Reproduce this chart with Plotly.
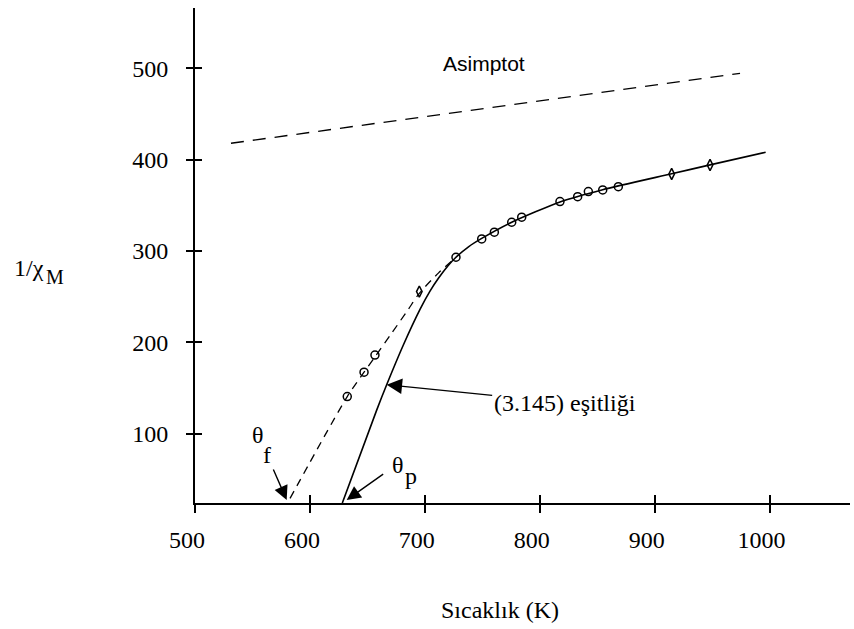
import plotly.graph_objects as go

# ---- data ----
exp_T = [632.5, 647.1, 656.6, 695.2, 727.1, 749.5, 760.5, 775.6, 784.3,
         817.6, 833.0, 842.3, 854.8, 868.4, 914.8, 948.2]
exp_inv_chi = [140.5, 167.2, 186.0, 255.5, 293.1, 313.1, 320.5, 331.4, 336.9,
               354.0, 359.4, 365.0, 366.8, 370.4, 384.3, 394.1]
exp_symbol = (['circle-open'] * 3 + ['diamond-tall-open'] + ['circle-open'] * 10
              + ['diamond-tall-open'] * 2)

fit_T = [582.7, 632.5, 647.1, 656.6, 671.2, 685.6, 695.2, 712.0, 727.1]
fit_inv_chi = [29.0, 140.5, 167.2, 184.0, 210.0, 236.0, 253.5, 276.0, 293.1]

theory_T = [628.2, 658.1, 666.8, 681.3, 695.8, 704.5, 712.0, 720.0, 727.1,
            738.0, 749.5, 775.6, 817.6, 854.8, 914.8, 948.2, 996.6]
theory_inv_chi = [24.0, 125.7, 153.5, 197.0, 236.0, 256.0, 270.3, 283.5, 293.1,
                  304.5, 313.7, 331.4, 353.7, 367.1, 384.5, 394.2, 408.0]

asym_T = [531.3, 974.3]
asym_inv_chi = [417.9, 494.5]

x_ticks = [500, 600, 700, 800, 900, 1000]
y_ticks = [100, 200, 300, 400, 500]

theta_f_T, theta_p_T = 579.8, 632.0
eq_point = (666.8, 153.5)

# ---- layout geometry ----
W, H = 854, 629
ML, MR, MT, MB = 195, 4, 8, 126
PW, PH = W - ML - MR, H - MT - MB


def xp(px):
    return (px - ML) / PW


def yp(py):
    return (MT + PH - py) / PH


SERIF = "Liberation Serif, Times New Roman, serif"
SANS = "Liberation Sans, Arial, sans-serif"
FS = 24

fig = go.Figure()

fig.add_trace(go.Scatter(x=asym_T, y=asym_inv_chi, mode="lines",
                         line=dict(color="black", width=1.3, dash="13px,9px"),
                         showlegend=False))
fig.add_trace(go.Scatter(x=fit_T, y=fit_inv_chi, mode="lines",
                         line=dict(color="black", width=1.3, dash="8px,6px",
                                   shape="spline", smoothing=0.8),
                         showlegend=False))
fig.add_trace(go.Scatter(x=theory_T, y=theory_inv_chi, mode="lines",
                         line=dict(color="black", width=1.6, shape="spline",
                                   smoothing=0.6),
                         showlegend=False))
fig.add_trace(go.Scatter(x=exp_T, y=exp_inv_chi, mode="markers",
                         marker=dict(symbol=exp_symbol, size=8, color="black",
                                     line=dict(color="black", width=1.5)),
                         showlegend=False))
# dummy traces for the overlay axes that draw the inner half of the crossing ticks
fig.add_trace(go.Scatter(x=[None], y=[None], xaxis="x2", yaxis="y", showlegend=False))
fig.add_trace(go.Scatter(x=[None], y=[None], xaxis="x", yaxis="y2", showlegend=False))

XR = [500, 1070]
YR = [24, 566]

fig.update_layout(
    width=W, height=H,
    margin=dict(l=ML, r=MR, t=MT, b=MB, pad=0),
    paper_bgcolor="white", plot_bgcolor="white",
    font=dict(family=SERIF, size=FS, color="black"),
    xaxis=dict(range=XR, tickvals=x_ticks, ticks="outside", ticklen=8,
               tickwidth=1.5, tickcolor="black", showline=True, linecolor="black",
               linewidth=2, showgrid=False, zeroline=False,
               ticklabelstandoff=6, ticklabelshift=-8,
               tickfont=dict(family=SERIF, size=FS)),
    xaxis2=dict(range=XR, overlaying="x", anchor="y", tickvals=x_ticks,
                ticks="inside", ticklen=8, tickwidth=1.5, tickcolor="black",
                showticklabels=False, showline=False, showgrid=False,
                zeroline=False),
    yaxis=dict(range=YR, tickvals=y_ticks, ticks="outside", ticklen=7,
               tickwidth=1.5, tickcolor="black", showline=True, linecolor="black",
               linewidth=2, showgrid=False, zeroline=False,
               ticklabelstandoff=13,
               tickfont=dict(family=SERIF, size=FS)),
    yaxis2=dict(range=YR, overlaying="y", anchor="x", side="left",
                tickvals=y_ticks, ticks="inside", ticklen=7, tickwidth=1.5,
                tickcolor="black", showticklabels=False, showline=False,
                showgrid=False, zeroline=False),
)

ann = []
ann.append(dict(text="Asimptot", xref="paper", yref="paper", x=xp(527), y=yp(63),
                xanchor="right", yanchor="middle", showarrow=False,
                font=dict(family=SANS, size=21)))
ann.append(dict(text="(3.145) eşitliği", xref="x", yref="y",
                x=eq_point[0], y=eq_point[1], ax=178, ay=18, showarrow=True,
                arrowhead=2, arrowsize=2.2, arrowwidth=1.4, arrowcolor="black",
                font=dict(family=SERIF, size=FS)))
ann.append(dict(text="θ", xref="paper", yref="paper", x=xp(258), y=yp(435),
                xanchor="center", yanchor="middle", showarrow=False,
                font=dict(family=SERIF, size=FS)))
ann.append(dict(text="f", xref="paper", yref="paper", x=xp(267), y=yp(455),
                xanchor="center", yanchor="middle", showarrow=False,
                font=dict(family=SERIF, size=FS)))
ann.append(dict(text="", xref="x", yref="y", x=theta_f_T, y=YR[0] + 3.3,
                ax=-14, ay=-32, showarrow=True, arrowhead=2, arrowsize=2.0,
                arrowwidth=1.4, arrowcolor="black"))
ann.append(dict(text="θ", xref="paper", yref="paper", x=xp(398), y=yp(465),
                xanchor="center", yanchor="middle", showarrow=False,
                font=dict(family=SERIF, size=FS)))
ann.append(dict(text="p", xref="paper", yref="paper", x=xp(411), y=yp(476),
                xanchor="center", yanchor="middle", showarrow=False,
                font=dict(family=SERIF, size=FS)))
ann.append(dict(text="", xref="x", yref="y", x=theta_p_T, y=YR[0] + 3.3,
                ax=38, ay=-27, showarrow=True, arrowhead=2, arrowsize=2.0,
                arrowwidth=1.4, arrowcolor="black"))
ann.append(dict(text="Sıcaklık (K)", xref="paper", yref="paper", x=xp(500),
                y=yp(610), xanchor="center", yanchor="middle", showarrow=False,
                font=dict(family=SERIF, size=FS)))
ann.append(dict(text="1/χ", xref="paper", yref="paper", x=xp(12), y=yp(268),
                xanchor="left", yanchor="middle", showarrow=False,
                font=dict(family=SERIF, size=FS)))
ann.append(dict(text="M", xref="paper", yref="paper", x=xp(44), y=yp(277),
                xanchor="left", yanchor="middle", showarrow=False,
                font=dict(family=SERIF, size=20)))
fig.update_layout(annotations=ann)

fig.write_html("out.html")
